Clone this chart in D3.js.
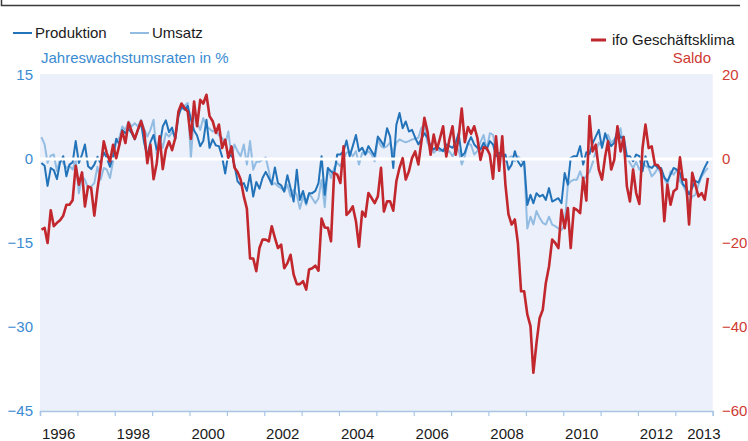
<!DOCTYPE html>
<html lang="de">
<head>
<meta charset="utf-8">
<title>Produktion, Umsatz und ifo Geschäftsklima</title>
<script src="https://d3js.org/d3.v7.min.js"></script>
<style>
  body { margin: 0; background: #fff; }
  svg { display: block; font-family: "Liberation Sans", Arial, sans-serif; }
</style>
</head>
<body>
<svg id="chart" width="748" height="441"></svg>
<script>
// monthly values, Jan 1996 .. Nov 2013 (one row per year)
const produktion = [
  -0.7,-1.2,-4.8,-1.6,-2.0,-3.6,-0.6,0.5,-3.1,-1.0,-0.6,3.2,
  -0.7,0.8,2.6,-1.3,-1.8,-1.0,0.4,-0.7,1.2,0.2,-1.4,0.5,
  3.6,2.6,5.2,4.6,5.4,4.6,3.5,5.2,6.4,2.9,0.5,3.0,
  4.3,1.7,2.3,5.8,6.9,4.8,5.6,3.5,7.6,9.4,8.8,9.5,
  7.1,5.1,4.2,2.3,3.2,7.0,2.0,3.5,2.4,2.3,0.4,-2.6,
  1.1,0.5,-1.0,-4.0,-4.6,-4.3,-5.7,-2.8,-6.7,-4.1,-5.3,-3.4,
  -2.3,-3.4,-4.5,-1.5,-4.3,-4.7,-5.8,-2.9,-5.2,-7.6,-1.9,-7.3,
  -5.7,-7.9,-6.1,-6.1,-5.7,-4.3,0.5,-6.4,-1.6,-2.2,-2.7,0.8,
  0.8,1.4,3.3,0.5,2.3,4.3,1.4,2.0,0.8,2.3,1.4,0.5,
  4.0,3.2,2.3,5.5,4.0,-1.6,6.1,8.2,5.5,6.7,4.9,5.2,
  3.8,2.6,3.5,4.6,3.8,2.3,1.7,2.3,1.8,1.4,2.6,2.3,
  2.0,2.9,4.6,0.5,1.1,2.8,3.9,2.6,2.0,1.7,2.9,1.7,
  3.2,2.6,0.5,1.1,0.5,0.8,-1.9,-1.0,1.4,-0.4,-1.3,-0.4,
  -8.2,-6.4,-7.9,-6.1,-6.7,-6.4,-7.3,-5.2,-7.6,-7.3,-7.0,-7.9,
  -2.5,-4.6,0.2,0.5,0.5,2.3,-1.0,1.2,0.9,2.8,4.0,5.2,
  2.0,4.6,3.2,2.3,2.9,5.2,3.8,4.0,0.5,0.5,-0.4,0.8,
  0.5,-2.2,0.5,-1.3,-1.6,-1.0,-1.6,-1.6,-3.3,-4.0,-2.8,-1.6,
  -1.9,-2.5,-4.5,-5.1,-6.3,-5.1,-3.9,-4.2,-2.8,-1.5,-0.4
];
const umsatz = [
  3.9,2.6,-0.7,0.6,0.8,-2.2,0.0,-0.7,-1.6,-1.2,-1.9,-0.1,
  -6.1,-3.1,-3.7,-5.2,-4.9,-4.3,-1.4,-3.7,-1.6,-1.9,-3.4,-0.4,
  3.2,3.8,5.8,5.2,6.7,5.8,6.4,5.8,7.0,5.4,4.0,5.2,
  7.0,0.8,3.8,2.0,4.6,4.0,4.8,4.0,8.2,8.9,9.5,10.0,
  0.2,8.2,6.5,5.2,7.3,5.8,5.4,4.9,5.2,4.2,3.8,2.6,
  4.9,0.3,2.6,1.4,0.5,2.6,-1.0,3.2,-1.9,-0.5,-0.5,-0.1,
  0.3,-2.2,-4.6,-4.3,-4.9,-5.2,-5.8,-4.6,-6.7,-5.5,-6.4,-8.9,
  -6.7,-8.2,-6.1,-7.0,-7.9,-7.0,-3.7,-8.6,-1.6,-3.4,-1.6,-0.7,
  -1.3,0.2,1.1,1.4,0.5,1.4,-1.0,1.1,0.8,1.4,0.8,-0.4,
  3.5,2.3,2.0,2.3,2.9,1.0,2.9,3.5,3.2,3.0,3.2,3.5,
  3.6,3.8,5.5,6.1,2.9,2.0,1.1,1.7,1.4,1.6,1.1,1.4,
  0.5,1.7,1.7,-1.0,0.5,2.8,2.5,0.8,1.4,3.0,4.3,1.7,
  4.6,4.3,1.4,0.8,1.4,-0.4,0.2,0.5,-0.4,0.5,-0.1,-1.0,
  -12.4,-10.3,-11.7,-9.3,-10.5,-11.4,-11.7,-10.3,-11.7,-12.0,-12.4,-12.7,
  -11.7,-4.6,-4.0,-3.7,-3.7,-2.2,-3.7,-3.0,-2.3,-0.7,1.4,2.9,
  2.3,4.0,4.3,2.9,3.5,4.3,5.5,1.4,0.5,-0.7,-1.6,-0.5,
  -1.9,-1.0,-1.2,-1.6,-3.1,-2.5,-1.6,-2.8,-3.5,-4.6,-2.2,-2.8,
  -1.9,-4.0,-4.6,-5.8,-7.9,-6.7,-6.4,-4.6,-3.1,-2.3,-1.6
];
const ifoKlima = [
  -16.8,-16.4,-20.0,-12.2,-16.0,-15.2,-14.6,-13.5,-10.9,-10.9,-9.8,-1.6,
  -6.1,-3.2,-11.3,-6.5,-6.9,-13.5,-7.3,-2.1,4.2,1.4,-0.6,3.4,
  0.2,3.4,6.6,3.8,8.7,6.6,4.8,7.0,9.0,6.6,-1.0,3.4,
  -4.8,-1.0,5.4,-2.4,2.2,4.2,2.1,5.0,11.3,13.2,12.1,11.3,
  4.8,13.7,7.8,14.1,13.2,15.3,10.2,9.0,6.2,8.2,2.6,4.6,
  0.3,3.0,-2.0,-3.1,-4.9,-8.9,-11.8,-23.7,-23.7,-26.7,-21.2,-19.2,
  -19.2,-19.6,-16.0,-18.8,-21.2,-20.4,-26.0,-24.8,-22.8,-27.5,-29.8,-29.8,
  -29.1,-31.1,-26.3,-26.0,-25.4,-26.6,-14.2,-16.3,-16.4,-19.6,-3.3,-3.7,
  -5.7,3.0,-13.3,-12.5,-11.3,-14.8,-20.9,-12.5,-13.7,-8.1,-9.3,-10.5,
  -8.9,-2.1,-12.5,-10.1,-10.1,-12.3,-5.3,-2.1,0.2,-4.9,-2.9,0.2,
  1.8,-1.3,3.8,9.8,6.6,1.0,5.8,2.2,5.0,7.8,0.6,4.6,
  7.8,1.0,5.0,12.0,4.0,7.6,6.0,7.8,5.0,-0.2,2.8,2.6,
  1.0,-4.7,5.4,-2.8,5.4,-6.1,-13.2,-15.6,-14.4,-20.0,-31.5,-31.5,
  -37.0,-39.8,-50.9,-43.8,-37.9,-35.9,-29.5,-25.6,-19.2,-20.0,-21.2,-12.1,
  -16.5,-11.7,-21.2,-11.7,-12.1,-12.9,-4.5,-9.9,10.2,1.8,3.4,-2.5,
  -4.9,0.6,4.2,-2.5,-0.2,7.8,1.8,5.2,-6.5,-10.1,-2.5,-8.1,
  -10.7,2.6,8.2,2.6,3.0,-1.3,-1.5,-2.8,-14.8,-6.1,-10.9,-7.7,
  -7.1,0.4,-4.9,-4.9,-15.6,-3.3,-6.1,-8.9,-8.1,-9.7,-4.5
];
const leftTicks = [15, 0, -15, -30, -45];
const rightTicks = [20, 0, -20, -40, -60];
const yearLabels = [1996, 1998, 2000, 2002, 2004, 2006, 2008, 2010, 2012, 2013];

const months = produktion.map(function(d, i) { return new Date(1996, i, 15); });

const cDark = '#2273b9', cLight = '#93bce3', cRed = '#c1272d';
const cBlueText = '#3a8bd2', cRedText = '#cf3a32';

const svg = d3.select('#chart');

var x = d3.scaleTime().domain([new Date(1996, 0, 1), new Date(2014, 0, 1)]).range([40, 712.7]);
var yL = d3.scaleLinear().domain([-45, 15]).range([411, 75]);
var yR = d3.scaleLinear().domain([-60, 20]).range([411, 75]);

// frame line at the top
svg.append('path')
  .attr('d', 'M1.5,0 V5.5 H740')
  .attr('fill', 'none')
  .attr('stroke', '#3a3a3a')
  .attr('stroke-width', 1.5);

// plot background
svg.append('rect')
  .attr('x', x.range()[0])
  .attr('y', yL(15) - 1)
  .attr('width', x.range()[1] - x.range()[0])
  .attr('height', yL(-45) - yL(15) + 1)
  .attr('fill', '#ecf0fa');

// x axis: year ticks
var xAxis = svg.append('g')
  .attr('transform', 'translate(0,' + yL(-45) + ')')
  .call(d3.axisBottom(x).tickValues(d3.timeYear.range(new Date(1996, 0, 1), new Date(2014, 0, 2))).tickSize(5).tickFormat(''));
xAxis.select('.domain').attr('stroke', '#a9c5e6').attr('stroke-width', 1.5);
xAxis.selectAll('.tick line').attr('stroke', '#a9c5e6').attr('stroke-width', 1.2);

svg.append('g')
  .selectAll('text')
  .data(yearLabels)
  .enter()
  .append('text')
  .attr('x', function(d) { return x(new Date(d, 6, 1)) + (d === 2013 ? 10 : 0); })
  .attr('y', 439)
  .attr('text-anchor', 'middle')
  .attr('font-size', 15)
  .attr('fill', '#1a1a1a')
  .text(function(d) { return d; });

// left axis
var left = svg.append('g')
  .attr('transform', 'translate(36,0)')
  .call(d3.axisLeft(yL).tickValues(leftTicks).tickSize(0).tickPadding(3));
left.select('.domain').remove();
left.selectAll('text').attr('font-size', 15).attr('fill', cBlueText).attr('font-family', null);

// right axis
var right = svg.append('g')
  .attr('transform', 'translate(719,0)')
  .call(d3.axisRight(yR).tickValues(rightTicks).tickSize(0).tickPadding(3));
right.select('.domain').remove();
right.selectAll('text').attr('font-size', 15).attr('fill', cRedText).attr('font-family', null);

// axis titles
svg.append('text').attr('x', 41).attr('y', 63).attr('font-size', 15).attr('fill', cBlueText)
  .text('Jahreswachstumsraten in %');
svg.append('text').attr('x', 711).attr('y', 63).attr('font-size', 15).attr('fill', cRedText)
  .attr('text-anchor', 'end').text('Saldo');

// series lines
var lineL = function(vals) {
  return d3.line().x(function(d, i) { return x(months[i]); }).y(function(d) { return yL(d); })(vals);
};
var lineR = d3.line().x(function(d, i) { return x(months[i]); }).y(function(d) { return yR(d); });

svg.append('path').attr('d', lineL(umsatz)).attr('fill', 'none')
  .attr('stroke', cLight).attr('stroke-width', 2).attr('stroke-linejoin', 'round');
svg.append('path').attr('d', lineL(produktion)).attr('fill', 'none')
  .attr('stroke', cDark).attr('stroke-width', 2).attr('stroke-linejoin', 'round');

// zero line
svg.append('line')
  .attr('x1', x.range()[0]).attr('x2', x.range()[1])
  .attr('y1', yL(0)).attr('y2', yL(0))
  .attr('stroke', '#fff').attr('stroke-width', 3);

svg.append('path').attr('d', lineR(ifoKlima)).attr('fill', 'none')
  .attr('stroke', cRed).attr('stroke-width', 2.6).attr('stroke-linejoin', 'round');

// legend
var legend = [
  { name: 'Produktion', color: cDark, x: 13, y: 33, len: 19 },
  { name: 'Umsatz', color: cLight, x: 130, y: 33, len: 19 },
  { name: 'ifo Geschäftsklima', color: cRed, x: 591, y: 40, len: 15 }
];
var lg = svg.append('g').selectAll('g').data(legend).enter().append('g');
lg.append('line')
  .attr('x1', function(d) { return d.x; })
  .attr('x2', function(d) { return d.x + d.len; })
  .attr('y1', function(d) { return d.y; })
  .attr('y2', function(d) { return d.y; })
  .attr('stroke', function(d) { return d.color; })
  .attr('stroke-width', function(d) { return d.color === cRed ? 3 : 2; });
lg.append('text')
  .attr('x', function(d) { return d.x + d.len + (d.color === cRed ? 6 : 3); })
  .attr('y', function(d) { return d.y + 5; })
  .attr('font-size', 15)
  .attr('fill', '#1a1a1a')
  .text(function(d) { return d.name; });
</script>
</body>
</html>
